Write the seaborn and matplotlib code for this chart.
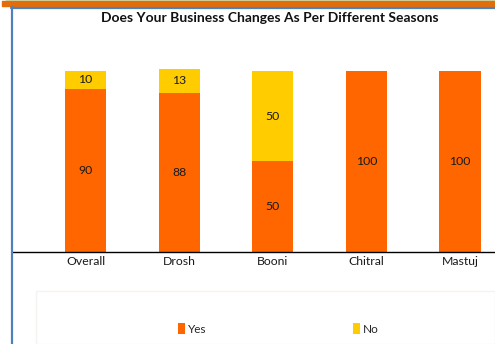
import matplotlib
matplotlib.use("Agg")
import matplotlib.pyplot as plt
from matplotlib.patches import Rectangle, Patch
from matplotlib.lines import Line2D
import seaborn as sns
import pandas as pd

# Survey responses (percent) by location
categories = ["Overall", "Drosh", "Booni", "Chitral", "Mastuj"]
yes_values = [90, 88, 50, 100, 100]
no_values = [10, 13, 50, 0, 0]

YES_COLOR = "#FF6600"
NO_COLOR = "#FFCC00"

sns.set_theme(style="white")
plt.rcParams["font.family"] = ["Lato", "DejaVu Sans"]

W, H = 495, 344
fig = plt.figure(figsize=(W / 100, H / 100), dpi=100)


def fx(px):
    return px / W


def fy(py):
    return 1 - py / H


# Plot area: left edge at 12 px, right edge at figure edge, baseline at 252 px
ax = fig.add_axes([fx(12), fy(252), fx(495) - fx(12), fy(30) - fy(252)])

df = pd.DataFrame({
    "category": categories,
    "yes": yes_values,
    "no": no_values,
})
df["total"] = df["yes"] + df["no"]

# Stacked bars: full height in yellow, the "Yes" part drawn over it in orange
sns.barplot(data=df, x="category", y="total", order=categories, color=NO_COLOR,
            saturation=1, width=0.44, ax=ax, linewidth=0)
sns.barplot(data=df, x="category", y="yes", order=categories, color=YES_COLOR,
            saturation=1, width=0.44, ax=ax, linewidth=0)

for i, (y, n) in enumerate(zip(yes_values, no_values)):
    ax.text(i, y / 2, f"{y}", ha="center", va="center", fontsize=8.8, color="#1a1a1a")
    if n > 0:
        ax.text(i, y + n / 2, f"{n}", ha="center", va="center", fontsize=8.8,
                color="#1a1a1a")

ax.set_xlim(-0.786, 4.374)
ax.set_ylim(0, 122.6)
ax.set_xlabel("")
ax.set_ylabel("")
ax.set_yticks([])
ax.tick_params(axis="x", length=0, pad=3, labelsize=8.8, labelcolor="#1a1a1a")
for side in ["top", "right", "left"]:
    ax.spines[side].set_visible(False)
ax.spines["bottom"].set_color("black")
ax.spines["bottom"].set_linewidth(1.0)
ax.patch.set_alpha(0)

fig.text(fx(270), fy(18), "Does Your Business Changes As Per Different Seasons",
         ha="center", va="center", fontsize=10, fontweight="bold", color="#111111")

# Frame decorations
fig.patches.append(Rectangle((fx(6), fy(1)), 1 - fx(6), fy(0) - fy(1),
                             transform=fig.transFigure, color="#c9e3b6", zorder=0))
fig.patches.append(Rectangle((fx(2), fy(5.5)), 1 - fx(2), fy(1) - fy(5.5),
                             transform=fig.transFigure, color="#E46C0A", zorder=0))
fig.lines.append(Line2D([fx(11), 1], [fy(7.5), fy(7.5)], transform=fig.transFigure,
                        color="#4F81BD", linewidth=1.6))
fig.lines.append(Line2D([fx(11.8), fx(11.8)], [fy(7), 0], transform=fig.transFigure,
                        color="#4F81BD", linewidth=1.6))

# Faint legend panel
fig.patches.append(Rectangle((fx(36), 0), 1 - fx(36), fy(291), transform=fig.transFigure,
                             facecolor="none", edgecolor="#f6f3ee", linewidth=1.0))

handles = [Patch(facecolor=YES_COLOR, edgecolor="none", label="Yes"),
           Patch(facecolor=NO_COLOR, edgecolor="none", label="No")]
fig.legend(handles=handles, loc="center left", bbox_to_anchor=(fx(178), fy(329)),
           ncol=2, frameon=False, fontsize=8.5, handlelength=0.6, handleheight=1.05,
           handletextpad=0.25, columnspacing=12.4, borderaxespad=0, borderpad=0)

fig.savefig("out.png", dpi=100, facecolor="white")
